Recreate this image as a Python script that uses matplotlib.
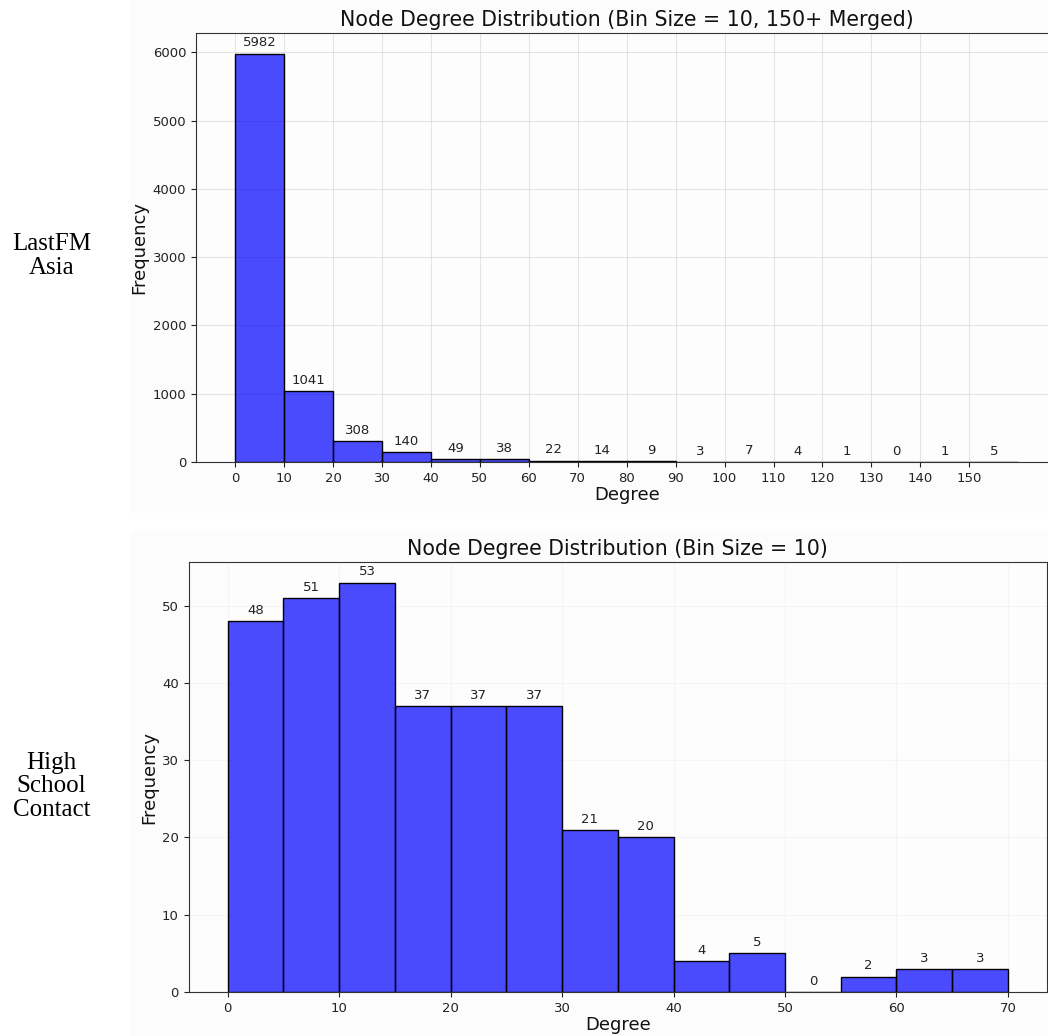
import numpy as np
import matplotlib.pyplot as plt

# LastFM Asia: bins of 10, last bin = 150+
lastfm_edges = np.arange(0, 170, 10)
lastfm_counts = [5982, 1041, 308, 140, 49, 38, 22, 14, 9, 3, 7, 4, 1, 0, 1, 5]
lastfm_ticks = np.arange(0, 160, 10)

# High School Contact: bars of width 5
school_edges = np.arange(0, 75, 5)
school_counts = [48, 51, 53, 37, 37, 37, 21, 20, 4, 5, 0, 2, 3, 3]

row_labels = ["LastFM\nAsia", "High\nSchool\nContact"]
titles = ["Node Degree Distribution (Bin Size = 10, 150+ Merged)",
          "Node Degree Distribution (Bin Size = 10)"]

fig = plt.figure(figsize=(10.48, 10.36), dpi=100)

# light panel backgrounds like the screenshot
fig.patches.append(plt.Rectangle((0.125, 0.505), 0.875, 0.495, transform=fig.transFigure,
                                 facecolor="#fcfcfc", edgecolor="none", zorder=-10))
fig.patches.append(plt.Rectangle((0.125, 0.0), 0.875, 0.487, transform=fig.transFigure,
                                 facecolor="#fcfcfc", edgecolor="none", zorder=-10))

ax1 = fig.add_axes([0.187, 0.554, 0.822, 0.414])
ax2 = fig.add_axes([0.180, 0.0425, 0.819, 0.415])


def draw(ax, edges, counts, title, grid_alpha, offset):
    width = edges[1] - edges[0]
    ax.bar(edges[:-1], counts, width=width, align="edge",
           color=(0, 0, 1, 0.7), edgecolor="black", linewidth=1.0, zorder=2)
    for x, h in zip(edges[:-1], counts):
        ax.annotate(str(h), (x + width / 2, h), xytext=(0, offset),
                    textcoords="offset points", ha="center", va="bottom",
                    fontsize=9.5, color="#222222")
    ax.set_title(title, fontsize=14.8, color="#111111", pad=5)
    ax.set_xlabel("Degree", fontsize=13, color="#111111", labelpad=1)
    ax.set_ylabel("Frequency", fontsize=13, color="#111111", labelpad=3)
    ax.grid(True, color="#cccccc", alpha=grid_alpha, linewidth=0.8, zorder=0)
    ax.set_axisbelow(True)
    ax.set_facecolor("#fdfdfd")
    ax.tick_params(labelsize=9.5, colors="#222222")
    for s in ax.spines.values():
        s.set_color("#333333")


draw(ax1, lastfm_edges, lastfm_counts, titles[0], 0.5, 3)
ax1.set_xticks(lastfm_ticks)
ax1.set_yticks(np.arange(0, 7000, 1000))

draw(ax2, school_edges, school_counts, titles[1], 0.15, 3)
ax2.set_yticks(np.arange(0, 60, 10))

fig.text(0.049, 0.753, row_labels[0], ha="center", va="center",
         fontsize=18, family="Liberation Serif", linespacing=1.1)
fig.text(0.049, 0.241, row_labels[1], ha="center", va="center",
         fontsize=18, family="Liberation Serif", linespacing=1.1)

fig.savefig("out.png", dpi=100)
